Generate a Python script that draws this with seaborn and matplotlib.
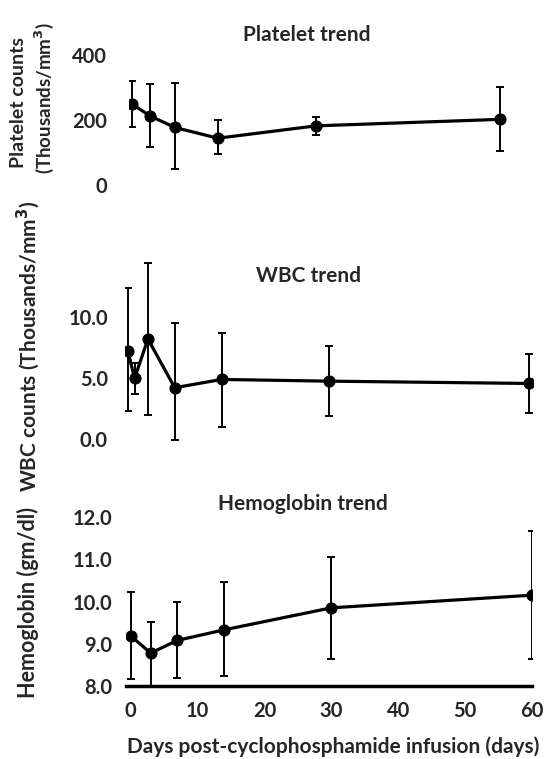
import matplotlib
matplotlib.use("Agg")
import matplotlib.pyplot as plt
import seaborn as sns
import pandas as pd
import numpy as np

sns.set_theme(style="white")
plt.rcParams['font.family'] = ['Lato', 'DejaVu Sans']
plt.rcParams['font.weight'] = 'bold'

# ---- data ----
plt_days = [0, 3, 7, 14, 30, 60]
plt_mean = [249, 212, 177, 144, 182, 202]
plt_low = [177, 118, 48, 94, 154, 106]
plt_high = [321, 310, 315, 200, 210, 303]

wbc_days = [0, 1, 3, 7, 14, 30, 60]
wbc_mean = [7.25, 4.96, 8.2, 4.2, 4.88, 4.74, 4.55]
wbc_low = [2.3, 3.7, 1.96, -0.1, 1.0, 1.9, 2.1]
wbc_high = [12.35, 6.2, 14.4, 9.5, 8.72, 7.66, 7.0]

hgb_days = [0, 3, 7, 14, 30, 60]
hgb_mean = [9.19, 8.78, 9.08, 9.33, 9.85, 10.15]
hgb_low = [8.17, 7.9, 8.2, 8.23, 8.63, 8.65]
hgb_high = [10.23, 9.52, 9.98, 10.45, 11.06, 11.67]

x_ticks = [0, 10, 20, 30, 40, 50, 60]

W, H = 544, 759
fig = plt.figure(figsize=(W / 100, H / 100), dpi=100)

TICK_FS = 14.5
FS = 15


def ax_px(left, top, right, bottom):
    return fig.add_axes([left / W, 1 - bottom / H, (right - left) / W, (bottom - top) / H])


def draw(ax, days, mean, low, high):
    df = pd.DataFrame({"day": days, "val": mean})
    sns.lineplot(data=df, x="day", y="val", ax=ax, color="black", lw=2.3,
                 marker="o", markersize=8, markeredgecolor="black", zorder=3)
    m = np.array(mean)
    yerr = [m - np.array(low), np.array(high) - m]
    ax.errorbar(days, mean, yerr=yerr, fmt="none", ecolor="black",
                elinewidth=1.4, capsize=3, capthick=1.4, zorder=2)
    for s in ax.spines.values():
        s.set_visible(False)
    ax.set_xlabel("")
    ax.set_ylabel("")
    ax.tick_params(length=0, labelsize=TICK_FS, pad=12)


# Platelet
ax1 = ax_px(128.9, 55, 506.1, 185)
draw(ax1, plt_days, plt_mean, plt_low, plt_high)
ax1.set_xlim(-0.5, 61)
ax1.set_ylim(0, 400)
ax1.set_yticks([0, 200, 400])
ax1.set_yticklabels(["0", "200", "400"], fontweight="bold")
ax1.tick_params(axis="y", pad=16)
ax1.set_xticks([])

# WBC
ax2 = ax_px(124.5, 260.9, 532.8, 441.4)
draw(ax2, wbc_days, wbc_mean, wbc_low, wbc_high)
ax2.set_xlim(-0.5, 60.5)
ax2.set_ylim(-0.2, 14.6)
ax2.set_yticks([0, 5, 10])
ax2.set_yticklabels(["0.0", "5.0", "10.0"], fontweight="bold")
ax2.set_xticks([])

# Hemoglobin
ax3 = ax_px(125.9, 517, 532, 686)
draw(ax3, hgb_days, hgb_mean, hgb_low, hgb_high)
ax3.set_xlim(-0.7, 60)
ax3.set_ylim(8, 12)
ax3.set_yticks([8, 9, 10, 11, 12])
ax3.set_yticklabels(["8.0", "9.0", "10.0", "11.0", "12.0"], fontweight="bold")
ax3.tick_params(axis="y", pad=10)
ax3.set_xticks(x_ticks)
ax3.set_xticklabels([str(t) for t in x_ticks], fontweight="bold")
ax3.spines["bottom"].set_visible(True)
ax3.spines["bottom"].set_color("black")
ax3.spines["bottom"].set_linewidth(2.5)
ax3.tick_params(axis="x", pad=11)

# titles and labels
fig.text(307 / W, 1 - 35 / H, "Platelet trend", ha="center", va="center", fontsize=FS, fontweight="bold")
fig.text(308 / W, 1 - 276 / H, "WBC trend", ha="center", va="center", fontsize=FS, fontweight="bold")
fig.text(303 / W, 1 - 504 / H, "Hemoglobin trend", ha="center", va="center", fontsize=FS, fontweight="bold")
fig.text(333 / W, 1 - 747 / H, "Days post-cyclophosphamide infusion (days)", ha="center", va="center",
         fontsize=FS, fontweight="bold")

fig.text(19 / W, 1 - 102 / H, "Platelet counts", ha="center", va="center", rotation=90,
         fontsize=14, fontweight="bold")
fig.text(44 / W, 1 - 98 / H, "(Thousands/mm$^{\\mathbf{3}}$)", ha="center", va="center", rotation=90,
         fontsize=13.5, fontweight="bold")
fig.text(28 / W, 1 - 346 / H, "WBC counts (Thousands/mm$^{\\mathbf{3}}$)", ha="center", va="center", rotation=90,
         fontsize=FS, fontweight="bold")
fig.text(28 / W, 1 - 603 / H, "Hemoglobin (gm/dl)", ha="center", va="center", rotation=90,
         fontsize=15.5, fontweight="bold")

fig.savefig("out.png", dpi=100, facecolor="white")
